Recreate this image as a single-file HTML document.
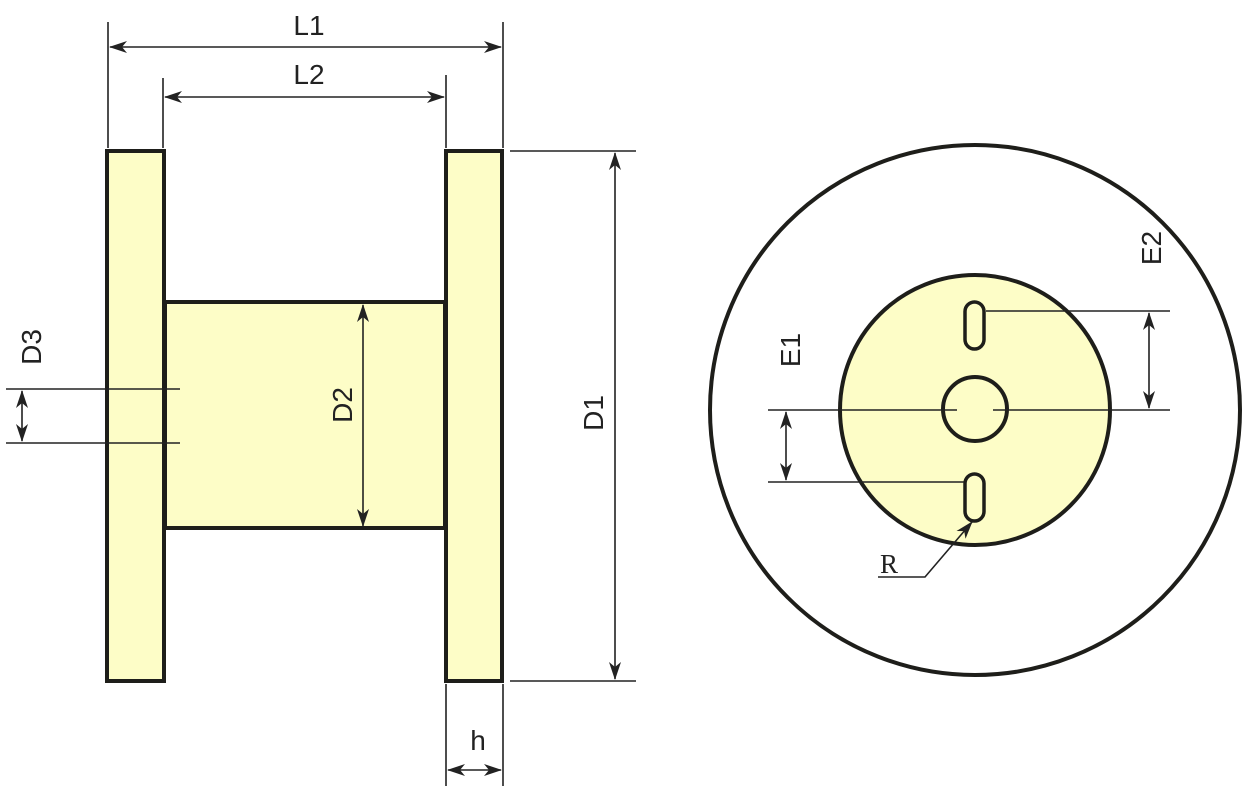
<!DOCTYPE html>
<html><head><style>body{margin:0;background:#fff}svg{display:block}</style></head><body>
<svg width="1253" height="786" viewBox="0 0 1253 786" xmlns="http://www.w3.org/2000/svg">
<defs>
<marker id="a" viewBox="0 0 18 12" refX="17" refY="6" markerWidth="18" markerHeight="12" markerUnits="userSpaceOnUse" orient="auto-start-reverse"><path d="M0,0 L18,6 L0,12 L5,6 Z" fill="#222"/></marker>
</defs>
<g fill="#fdfdc7" stroke="#1e1e1a" stroke-width="4">
<rect x="165" y="302" width="280" height="226"/>
<rect x="107" y="151" width="57" height="530"/>
<rect x="446" y="151" width="56" height="530"/>
</g>
<circle cx="975" cy="410" r="265" fill="#fff" stroke="#1e1e1a" stroke-width="4"/>
<circle cx="975" cy="410" r="135" fill="#fdfdc7" stroke="#1e1e1a" stroke-width="4"/>
<circle cx="975" cy="409" r="32" fill="#fdfdc7" stroke="#1e1e1a" stroke-width="4"/>
<rect x="965" y="302" width="19" height="47" rx="9.5" fill="#fdfdc7" stroke="#1e1e1a" stroke-width="3.5"/>
<rect x="965" y="474" width="19" height="47" rx="9.5" fill="#fdfdc7" stroke="#1e1e1a" stroke-width="3.5"/>
<g stroke="#222" stroke-width="1.6" fill="none">
<line x1="108" y1="22" x2="108" y2="148"/><line x1="503" y1="22" x2="503" y2="148"/>
<line x1="163" y1="78" x2="163" y2="148"/><line x1="446" y1="75" x2="446" y2="148"/>
<line x1="110" y1="47" x2="501" y2="47" marker-start="url(#a)" marker-end="url(#a)"/>
<line x1="165" y1="97" x2="444" y2="97" marker-start="url(#a)" marker-end="url(#a)"/>
<line x1="510" y1="151" x2="636" y2="151"/><line x1="510" y1="681" x2="636" y2="681"/>
<line x1="615" y1="153" x2="615" y2="679" marker-start="url(#a)" marker-end="url(#a)"/>
<line x1="363" y1="305" x2="363" y2="526" marker-start="url(#a)" marker-end="url(#a)"/>
<line x1="6" y1="389" x2="180" y2="389"/><line x1="6" y1="443" x2="180" y2="443"/>
<line x1="22" y1="391" x2="22" y2="441" marker-start="url(#a)" marker-end="url(#a)"/>
<line x1="446" y1="684" x2="446" y2="786"/><line x1="503" y1="684" x2="503" y2="786"/>
<line x1="448" y1="770" x2="501" y2="770" marker-start="url(#a)" marker-end="url(#a)"/>
<line x1="768" y1="410" x2="957" y2="410"/><line x1="993" y1="410" x2="1170" y2="410"/>
<line x1="986" y1="311" x2="1170" y2="311"/><line x1="768" y1="482" x2="964" y2="482"/>
<line x1="1149" y1="313" x2="1149" y2="408" marker-start="url(#a)" marker-end="url(#a)"/>
<line x1="786" y1="412" x2="786" y2="480" marker-start="url(#a)" marker-end="url(#a)"/>
<polyline points="878,577 925,577 972,522" marker-end="url(#a)"/>
</g>
<g font-family="Liberation Sans, sans-serif" font-size="28" fill="#222" text-anchor="middle">
<text x="309" y="35">L1</text>
<text x="309" y="84">L2</text>
<text x="478" y="750">h</text>
<text transform="translate(352,405) rotate(-90)">D2</text>
<text transform="translate(603,413) rotate(-90)">D1</text>
<text transform="translate(41,347) rotate(-90)">D3</text>
<text transform="translate(1161,248) rotate(-90)">E2</text>
<text transform="translate(800,350) rotate(-90)">E1</text>
</g>
<text x="889" y="573" font-family="Liberation Serif, serif" font-size="27" fill="#222" text-anchor="middle">R</text>
</svg>
</body></html>
